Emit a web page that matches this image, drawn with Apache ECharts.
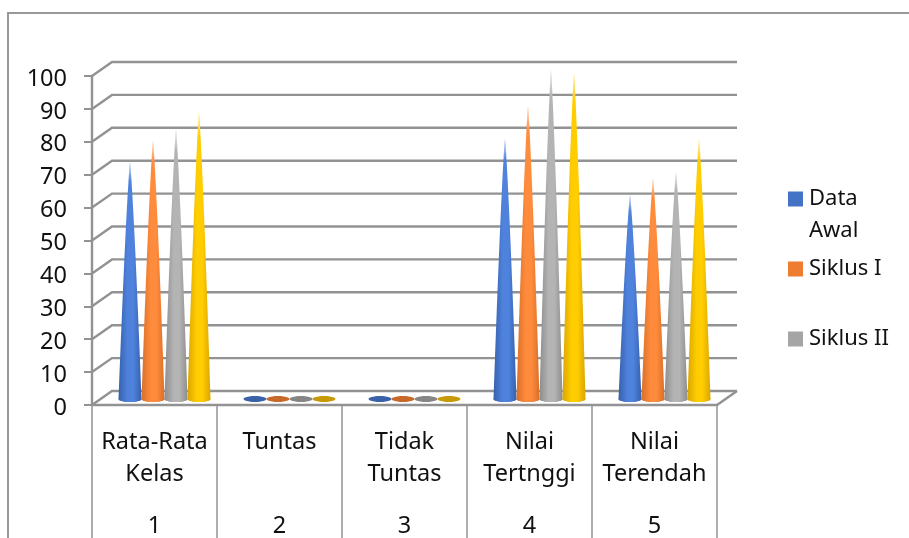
<!DOCTYPE html>
<html>
<head>
<meta charset="utf-8">
<style>
    html, body { margin: 0; padding: 0; background: #fff; }
    #chart { width: 909px; height: 538px; }
</style>
</head>
<body>
<div id="chart"></div>
<script src="https://cdn.jsdelivr.net/npm/echarts@6/dist/echarts.min.js"></script>
<script>
var categories = ['Rata-Rata\nKelas', 'Tuntas', 'Tidak\nTuntas', 'Nilai\nTertnggi', 'Nilai\nTerendah'];
var categoryNumbers = ['1', '2', '3', '4', '5'];
var yTicks = [0, 10, 20, 30, 40, 50, 60, 70, 80, 90, 100];

var seriesNames = ['Data Awal', 'Siklus I', 'Siklus II', 'Siklus III'];
var dataAwal = [72, 0, 0, 79, 62];
var siklus1 = [78.5, 0, 0, 89, 67];
var siklus2 = [82, 0, 0, 100, 69];
var siklus3 = [87, 0, 0, 99, 79];

// warna: legend, sisi gelap, tengah terang, alas
var colors = [
    {main: '#4472c4', dark: '#3561ae', light: '#4f82dc', disc: '#3a62a8'},
    {main: '#ed7d31', dark: '#d96f28', light: '#ff8b3c', disc: '#c8692a'},
    {main: '#a5a5a5', dark: '#8d8d8d', light: '#b4b4b4', disc: '#868686'},
    {main: '#ffc000', dark: '#dba500', light: '#ffcd00', disc: '#c99a08'}
];

var font = '"Noto Sans"';
var textColor = '#111';
var gridColor = '#929292';
var depthX = 20, depthY = 14;   // kedalaman dinding belakang
var coneShiftX = 10, coneShiftY = 6;

// dinding dan lantai 3D
function renderWall(params, api) {
    var band = api.size([1, 0])[0];
    var p = api.coord([0, api.value(1)]);
    var left = p[0] - band / 2;
    var right = left + band * categories.length;
    return {
        type: 'polyline',
        shape: {points: [[left, p[1]], [left + depthX, p[1] - depthY], [right + depthX, p[1] - depthY]]},
        style: {fill: null, stroke: gridColor, lineWidth: 2.4}
    };
}

// lantai sebelah kanan
function renderFloorEnd(params, api) {
    var band = api.size([1, 0])[0];
    var p = api.coord([0, 0]);
    var right = p[0] - band / 2 + band * categories.length;
    return {
        type: 'line',
        shape: {x1: right, y1: p[1], x2: right + depthX, y2: p[1] - depthY},
        style: {stroke: gridColor, lineWidth: 2.4}
    };
}

function ellipsePoints(cx, cy, rx, ry, from, to) {
    var pts = [];
    for (var i = 0; i <= 24; i++) {
        var a = from + (to - from) * i / 24;
        pts.push([cx + rx * Math.cos(a), cy + ry * Math.sin(a)]);
    }
    return pts;
}

// sisi kerucut sedikit cembung
function conePoints(cx, cy, rx, ry, apexY) {
    var pts = ellipsePoints(cx, cy, rx, ry, 0, Math.PI);
    var i, t;
    for (i = 1; i < 20; i++) {
        t = i / 20;
        pts.push([cx - rx * Math.pow(1 - t, 0.8), cy + (apexY - cy) * t]);
    }
    pts.push([cx, apexY]);
    for (i = 19; i >= 1; i--) {
        t = i / 20;
        pts.push([cx + rx * Math.pow(1 - t, 0.8), cy + (apexY - cy) * t]);
    }
    return pts;
}

// kerucut satu seri
function coneRenderer(index) {
    return function (params, api) {
        var band = api.size([1, 0])[0];
        var step = band * 0.184;
        var rx = step / 2, ry = 3;
        var base = api.coord([api.value(0), 0]);
        var top = api.coord([api.value(0), api.value(1)]);
        var cx = base[0] + coneShiftX + (index - 1.5) * step;
        var cy = base[1] - coneShiftY;
        var c = colors[index];
        var children = [{
            type: 'polygon',
            shape: {points: ellipsePoints(cx, cy, rx, ry, 0, Math.PI * 2)},
            style: {fill: c.disc}
        }];
        if (api.value(1) > 0) {
            var pts = conePoints(cx, cy, rx, ry, top[1] - coneShiftY);
            children.push({
                type: 'polygon',
                shape: {points: pts},
                style: {
                    fill: new echarts.graphic.LinearGradient(0, 0, 1, 0, [
                        {offset: 0, color: c.dark},
                        {offset: 0.4, color: c.light},
                        {offset: 0.65, color: c.light},
                        {offset: 1, color: c.dark}
                    ])
                }
            });
            // ujung memudar
            children.push({
                type: 'polygon',
                shape: {points: pts},
                style: {
                    fill: new echarts.graphic.LinearGradient(0, 0, 0, 1, [
                        {offset: 0, color: 'rgba(255,255,255,0.8)'},
                        {offset: 0.08, color: 'rgba(255,255,255,0)'},
                        {offset: 1, color: 'rgba(255,255,255,0)'}
                    ])
                }
            });
        }
        return {type: 'group', children: children};
    };
}

function pairs(values) {
    return values.map(function (v, i) {
        return [i, v];
    });
}

var allValues = [dataAwal, siklus1, siklus2, siklus3];

var series = [{
    type: 'custom',
    silent: true,
    renderItem: renderWall,
    data: yTicks.map(function (v) { return [0, v]; }),
    encode: {x: 0, y: 1},
    z: 1
}, {
    type: 'custom',
    silent: true,
    renderItem: renderFloorEnd,
    data: [[0, 0]],
    encode: {x: 0, y: 1},
    z: 1
}];

allValues.forEach(function (values, i) {
    series.push({
        name: seriesNames[i],
        type: 'custom',
        renderItem: coneRenderer(i),
        data: pairs(values),
        encode: {x: 0, y: 1},
        itemStyle: {color: colors[i].main},
        z: 3 + i
    });
});

function legendAt(name, top, formatter) {
    return {
        data: [name],
        left: 788,
        top: top,
        padding: 0,
        icon: 'rect',
        itemWidth: 15,
        itemHeight: 15,
        itemGap: 0,
        selectedMode: false,
        formatter: formatter,
        textStyle: {fontFamily: font, fontSize: 22, lineHeight: 32, color: textColor, padding: [2, 0, 0, 1]}
    };
}

var option = {
    animation: false,
    backgroundColor: '#fff',
    // label boleh melewati tepi bawah, grid jangan mengecil
    grid: {left: 92, right: 192, top: 76, bottom: 133, outerBoundsMode: 'none'},
    legend: [
        // baris kosong supaya "Data" sejajar dengan kotak legend
        legendAt(seriesNames[0], 150, function () { return '\nData\nAwal'; }),
        legendAt(seriesNames[1], 252),
        legendAt(seriesNames[2], 322)
    ],
    xAxis: [{
        type: 'category',
        data: categories,
        position: 'bottom',
        axisLine: {show: true, lineStyle: {color: gridColor, width: 2.4}},
        axisTick: {show: true, length: 134, lineStyle: {color: gridColor, width: 1.5}},
        axisLabel: {interval: 0, margin: 21, fontFamily: font, fontSize: 23.5, lineHeight: 32, color: textColor}
    }, {
        type: 'category',
        data: categoryNumbers,
        position: 'bottom',
        axisLine: {show: false},
        axisTick: {show: false},
        axisLabel: {interval: 0, margin: 105, fontFamily: font, fontSize: 23.5, lineHeight: 32, color: textColor}
    }],
    yAxis: {
        type: 'value',
        min: 0,
        max: 100,
        interval: 10,
        axisLine: {show: true, lineStyle: {color: gridColor, width: 2.4}},
        axisTick: {show: true, length: 8, lineStyle: {color: gridColor, width: 2}},
        axisLabel: {margin: 25, fontFamily: font, fontSize: 23.5, color: textColor, verticalAlign: 'top', lineHeight: 6},
        splitLine: {show: false}
    },
    graphic: [{
        type: 'polyline',
        shape: {points: [[8, 538], [8, 13], [909, 13]]},
        style: {fill: null, stroke: '#999', lineWidth: 2}
    }],
    series: series
};

echarts.init(document.getElementById('chart')).setOption(option);
</script>
</body>
</html>
